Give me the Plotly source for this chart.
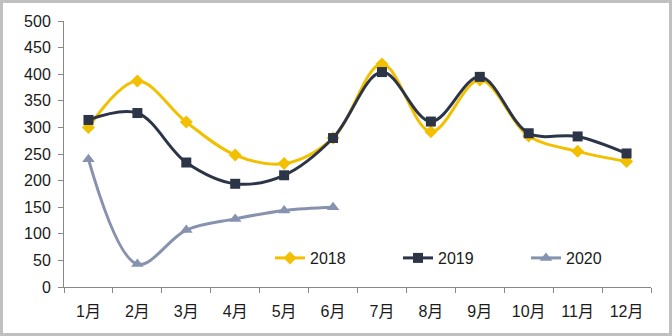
import plotly.graph_objects as go

months = ["1月", "2月", "3月", "4月", "5月", "6月", "7月", "8月", "9月", "10月", "11月", "12月"]
s2018 = [300, 387, 310, 248, 232, 280, 419, 292, 389, 284, 255, 236]
s2019 = [314, 327, 234, 194, 210, 280, 404, 311, 395, 289, 283, 251]
s2020 = [240, 43, 107, 128, 144, 150]

W, H = 672, 336
ML, MR, MT, MB = 64, 21, 21, 49

fig = go.Figure()
fig.add_trace(go.Scatter(x=months, y=s2018, name="2018", mode="lines+markers",
                         line=dict(color="#F2C000", width=3, shape="spline", smoothing=1),
                         marker=dict(symbol="diamond", size=10, color="#F2C000")))
fig.add_trace(go.Scatter(x=months, y=s2019, name="2019", mode="lines+markers",
                         line=dict(color="#2C3547", width=3, shape="spline", smoothing=1),
                         marker=dict(symbol="square", size=10, color="#2C3547")))
fig.add_trace(go.Scatter(x=months[:len(s2020)], y=s2020, name="2020", mode="lines+markers",
                         line=dict(color="#8793AE", width=3, shape="spline", smoothing=1),
                         marker=dict(symbol="triangle-up", size=11, color="#8793AE")))

pw = W - ML - MR
ph = H - MT - MB
def px(x):
    return (x - ML) / pw
def py(y):
    return (H - MB - y) / ph

font = "Liberation Sans, Arial, Noto Sans CJK SC, sans-serif"
fig.update_layout(
    width=W, height=H,
    margin=dict(l=ML, r=MR, t=MT, b=MB, pad=0),
    paper_bgcolor="white", plot_bgcolor="white",
    font=dict(family=font, size=16, color="#1a1a1a"),
    showlegend=True,
    legend=dict(orientation="h", x=px(270), y=py(258), xanchor="left", yanchor="middle",
                bgcolor="rgba(0,0,0,0)", entrywidth=83, entrywidthmode="pixels",
                font=dict(size=16, family=font), tracegroupgap=0),
    xaxis=dict(type="category", range=[-0.5, 11.5], tickson="boundaries", ticks="outside",
               ticklen=5, tickcolor="#888888", showline=True, linecolor="#888888",
               linewidth=1, showgrid=False, zeroline=False, ticklabelstandoff=10),
    yaxis=dict(range=[0, 500], tickvals=[0, 50, 100, 150, 200, 250, 300, 350, 400, 450, 500],
               ticks="outside", ticklen=5, tickcolor="#888888", showline=True,
               linecolor="#888888", linewidth=1, showgrid=False, zeroline=False,
               ticklabelstandoff=4),
    shapes=[dict(type="rect", xref="paper", yref="paper",
                 x0=px(1.5), x1=px(W - 1.5), y0=py(1.5), y1=py(H - 1.5),
                 line=dict(color="#C0C0C0", width=3), layer="below")],
)

fig.write_html("out.html")
